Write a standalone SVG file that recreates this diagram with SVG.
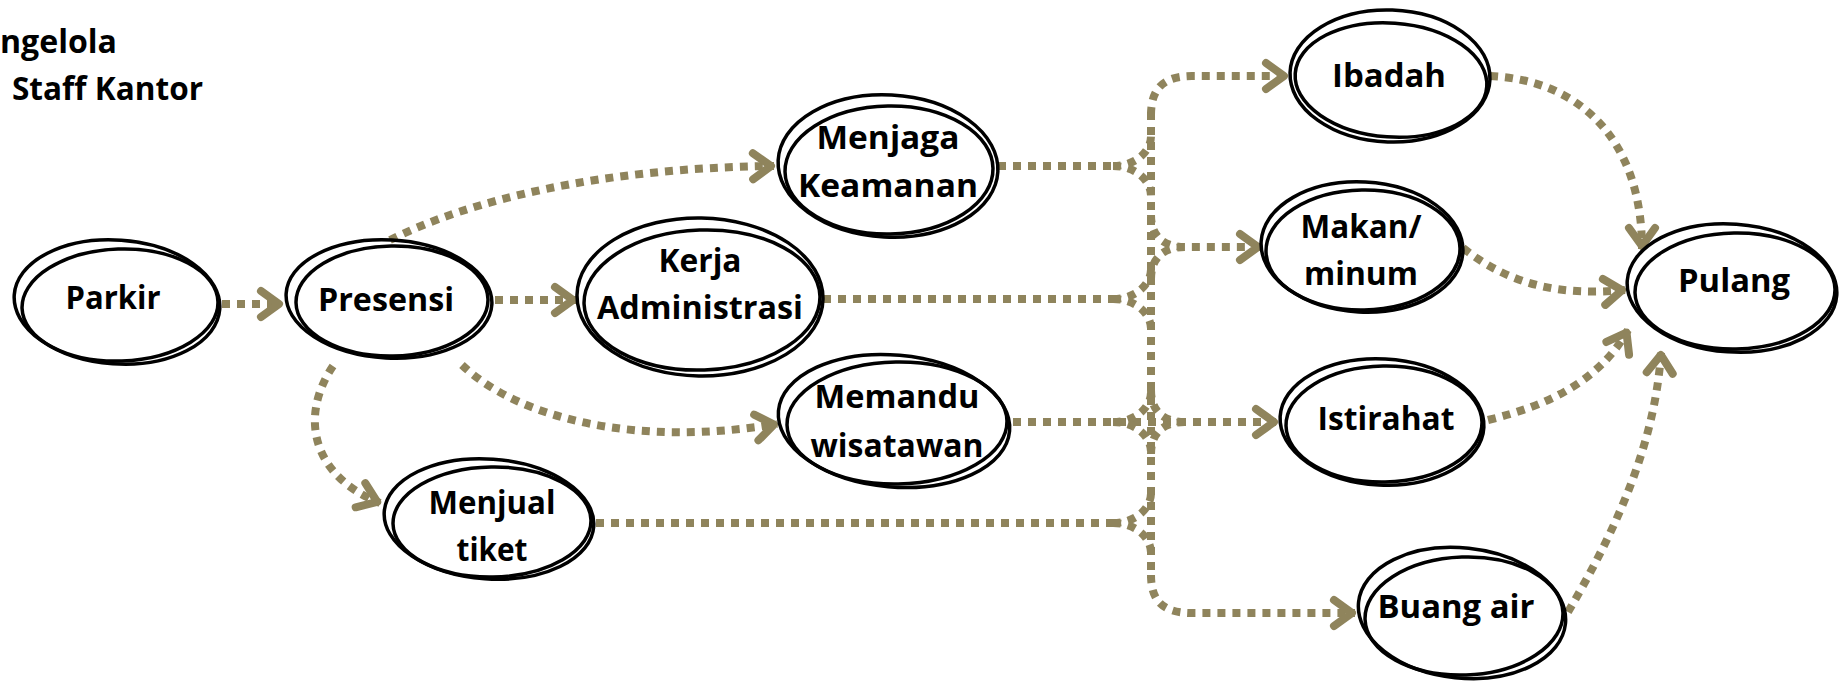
<svg xmlns="http://www.w3.org/2000/svg" width="1842" height="681" viewBox="0 0 1842 681">
  <style>
    .ring { fill: none; stroke: #000; stroke-width: 3.5; }
    .lbl { font-family: "Open Sans", "Liberation Sans", sans-serif; font-weight: 700; font-size: 33px; fill: #000; text-anchor: middle; }
    .ttl { font-family: "Open Sans", "Liberation Sans", sans-serif; font-weight: 700; font-size: 32px; fill: #000; }
    .flow { fill: none; stroke: #8f845c; stroke-width: 8; stroke-dasharray: 8 7; }
    .tip { marker-end: url(#chev); }
  </style>
  <defs>
    <marker id="chev" markerUnits="userSpaceOnUse" viewBox="-30 -22 34 44" markerWidth="34" markerHeight="44" refX="0" refY="0" orient="auto">
      <path d="M-21,-13 L-3,0 L-21,13" fill="none" stroke="#8f845c" stroke-width="8" stroke-linecap="round" stroke-linejoin="round"/>
    </marker>
  </defs>
  <rect width="1842" height="681" fill="#fff"/>

  <!-- legend fragment, top left -->
  <g id="legend">
    <text class="ttl" x="0" y="53" textLength="117" lengthAdjust="spacingAndGlyphs">ngelola</text>
    <text class="ttl" x="12" y="100" textLength="191" lengthAdjust="spacingAndGlyphs">Staff Kantor</text>
  </g>

  <!-- dotted connectors -->
  <g id="connectors">
    <!-- left side -->
    <path class="flow tip" d="M222,304 L282,304"/>
    <path class="flow tip" d="M495,300 L576,300"/>
    <path class="flow tip" d="M390,240 C470,200 600,168 774,166"/>
    <path class="flow tip" d="M462,365 C520,420 640,447 777,424"/>
    <path class="flow tip" d="M333,366 C300,415 310,475 380,503"/>

    <!-- source stubs into the trunk -->
    <path class="flow" d="M998,166 L1113,166"/>
    <path class="flow" d="M1113,166 C1135,166 1151,152 1151,136"/>
    <path class="flow" d="M1113,166 C1135,166 1151,180 1151,196"/>

    <path class="flow" d="M823,299 L1113,299"/>
    <path class="flow" d="M1113,299 C1135,299 1151,285 1151,269"/>
    <path class="flow" d="M1113,299 C1135,299 1151,313 1151,329"/>

    <path class="flow tip" d="M1013,422 L1277,422"/>
    <path class="flow" d="M1113,422 C1135,422 1151,408 1151,392"/>
    <path class="flow" d="M1113,422 C1135,422 1151,436 1151,452"/>

    <path class="flow" d="M596,523 L1113,523"/>
    <path class="flow" d="M1113,523 C1135,523 1151,509 1151,493"/>
    <path class="flow" d="M1113,523 C1135,523 1151,537 1151,553"/>

    <!-- trunk and target branches -->
    <path class="flow" d="M1151,112 L1151,578"/>
    <path class="flow tip" d="M1151,115 C1151,90 1162,76 1192,76 L1287,76"/>
    <path class="flow tip" d="M1151,575 C1151,600 1162,613 1192,613 L1355,613"/>

    <path class="flow tip" d="M1151,215 C1151,235 1162,247 1186,247 L1261,247"/>
    <path class="flow" d="M1151,279 C1151,259 1162,247 1186,247"/>

    <path class="flow" d="M1151,390 C1151,410 1162,422 1186,422"/>
    <path class="flow" d="M1151,454 C1151,434 1162,422 1186,422"/>

    <!-- into Pulang -->
    <path class="flow tip" d="M1490,76 C1580,80 1642,140 1642,249"/>
    <path class="flow tip" d="M1463,248 C1510,285 1560,296 1625,290"/>
    <path class="flow tip" d="M1488,420 C1550,405 1600,380 1628,330"/>
    <path class="flow tip" d="M1568,612 C1610,540 1655,450 1661,352"/>
  </g>

  <g id="parkir">
    <ellipse class="ring" cx="117" cy="302" rx="103" ry="62" transform="rotate(4 117 302)"/>
    <ellipse class="ring" cx="120" cy="305" rx="98" ry="56" transform="rotate(-2 120 305)"/>
    <text class="lbl" x="113" y="309" textLength="95" lengthAdjust="spacingAndGlyphs">Parkir</text>
  </g>

  <g id="presensi">
    <ellipse class="ring" cx="389" cy="299" rx="103" ry="59" transform="rotate(3 389 299)"/>
    <ellipse class="ring" cx="392" cy="301" rx="96" ry="55" transform="rotate(-1 392 301)"/>
    <text class="lbl" x="386" y="311" textLength="136" lengthAdjust="spacingAndGlyphs">Presensi</text>
  </g>

  <g id="kerja-administrasi">
    <ellipse class="ring" cx="700" cy="297" rx="123" ry="79" transform="rotate(1 700 297)"/>
    <ellipse class="ring" cx="702" cy="300" rx="118" ry="70" transform="rotate(-2 702 300)"/>
    <text class="lbl" x="700" y="272" textLength="83" lengthAdjust="spacingAndGlyphs">Kerja</text>
    <text class="lbl" x="700" y="319" textLength="206" lengthAdjust="spacingAndGlyphs">Administrasi</text>
  </g>

  <g id="menjaga-keamanan">
    <ellipse class="ring" cx="888" cy="166" rx="110" ry="71" transform="rotate(3 888 166)"/>
    <ellipse class="ring" cx="889" cy="170" rx="104" ry="64" transform="rotate(-1 889 170)"/>
    <text class="lbl" x="888" y="149" textLength="143" lengthAdjust="spacingAndGlyphs">Menjaga</text>
    <text class="lbl" x="888" y="197" textLength="180" lengthAdjust="spacingAndGlyphs">Keamanan</text>
  </g>

  <g id="memandu-wisatawan">
    <ellipse class="ring" cx="894" cy="421" rx="116" ry="66" transform="rotate(5 894 421)"/>
    <ellipse class="ring" cx="897" cy="423" rx="110" ry="61" transform="rotate(-1 897 423)"/>
    <text class="lbl" x="897" y="408" textLength="165" lengthAdjust="spacingAndGlyphs">Memandu</text>
    <text class="lbl" x="897" y="457" textLength="173" lengthAdjust="spacingAndGlyphs">wisatawan</text>
  </g>

  <g id="menjual-tiket">
    <ellipse class="ring" cx="489" cy="519" rx="105" ry="60" transform="rotate(4 489 519)"/>
    <ellipse class="ring" cx="492" cy="522" rx="99" ry="55" transform="rotate(-1 492 522)"/>
    <text class="lbl" x="492" y="514" textLength="127" lengthAdjust="spacingAndGlyphs">Menjual</text>
    <text class="lbl" x="492" y="561" textLength="71" lengthAdjust="spacingAndGlyphs">tiket</text>
  </g>

  <g id="ibadah">
    <ellipse class="ring" cx="1390" cy="76" rx="100" ry="66" transform="rotate(2 1390 76)"/>
    <ellipse class="ring" cx="1391" cy="80" rx="96" ry="57" transform="rotate(4 1391 80)"/>
    <text class="lbl" x="1389" y="87" textLength="114" lengthAdjust="spacingAndGlyphs">Ibadah</text>
  </g>

  <g id="makan-minum">
    <ellipse class="ring" cx="1362" cy="247" rx="101" ry="65" transform="rotate(3 1362 247)"/>
    <ellipse class="ring" cx="1363" cy="250" rx="97" ry="60" transform="rotate(-1 1363 250)"/>
    <text class="lbl" x="1361" y="238" textLength="121" lengthAdjust="spacingAndGlyphs">Makan/</text>
    <text class="lbl" x="1361" y="285" textLength="114" lengthAdjust="spacingAndGlyphs">minum</text>
  </g>

  <g id="istirahat">
    <ellipse class="ring" cx="1382" cy="422" rx="102" ry="63" transform="rotate(3 1382 422)"/>
    <ellipse class="ring" cx="1384" cy="424" rx="98" ry="58" transform="rotate(-1 1384 424)"/>
    <text class="lbl" x="1386" y="430" textLength="137" lengthAdjust="spacingAndGlyphs">Istirahat</text>
  </g>

  <g id="buang-air">
    <ellipse class="ring" cx="1462" cy="613" rx="104" ry="65" transform="rotate(6 1462 613)"/>
    <ellipse class="ring" cx="1464" cy="616" rx="99" ry="59" transform="rotate(-2 1464 616)"/>
    <text class="lbl" x="1456" y="618" textLength="157" lengthAdjust="spacingAndGlyphs">Buang air</text>
  </g>

  <g id="pulang">
    <ellipse class="ring" cx="1732" cy="288" rx="105" ry="64" transform="rotate(4 1732 288)"/>
    <ellipse class="ring" cx="1735" cy="291" rx="100" ry="58" transform="rotate(-1 1735 291)"/>
    <text class="lbl" x="1734" y="292" textLength="112" lengthAdjust="spacingAndGlyphs">Pulang</text>
  </g>
</svg>
